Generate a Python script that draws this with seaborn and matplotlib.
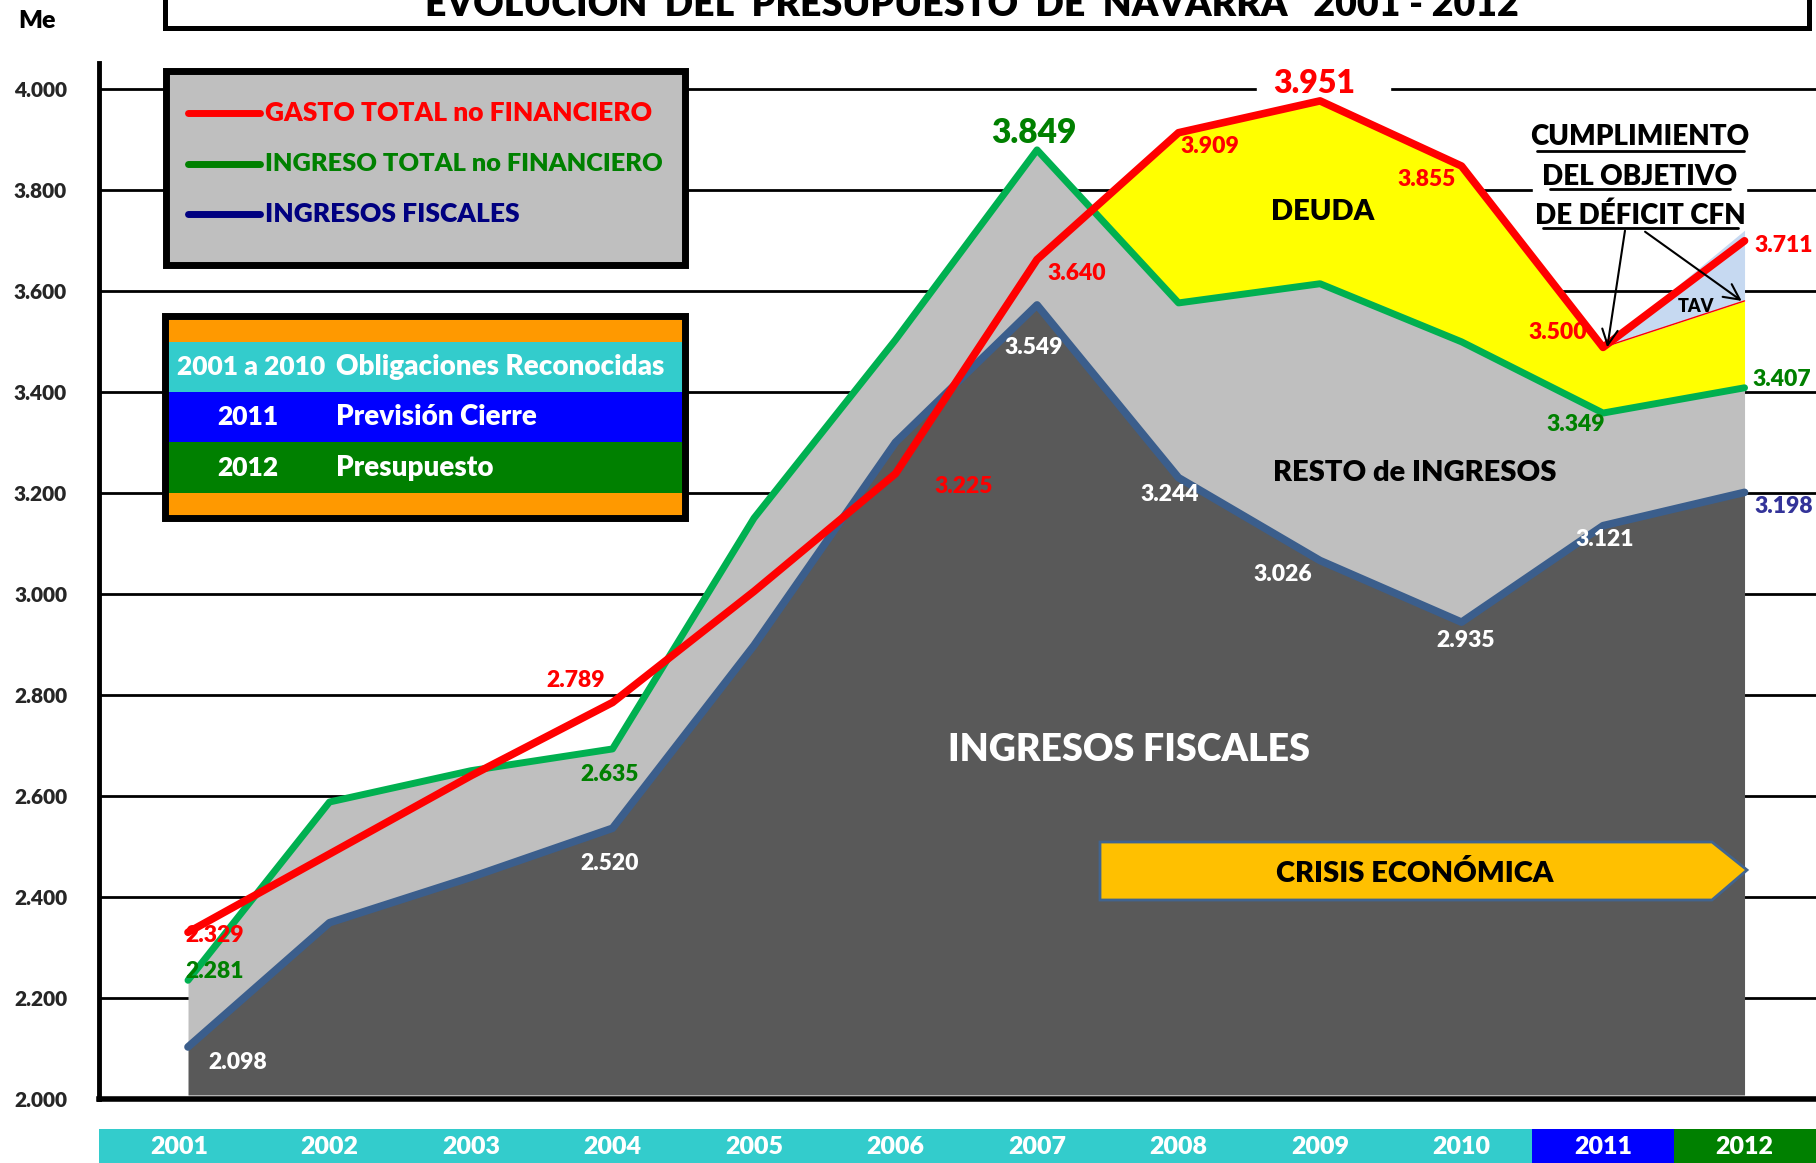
import numpy as np
import pandas as pd
import matplotlib
matplotlib.use("Agg")
import matplotlib.pyplot as plt
from matplotlib.patches import Rectangle, Polygon
from matplotlib.lines import Line2D
import seaborn as sns

sns.set_style("white")
plt.rcParams['font.family'] = ['Lato', 'DejaVu Sans']
plt.rcParams['font.weight'] = 'heavy'

# ---- data (millones de euros) ----
years = ['2001', '2002', '2003', '2004', '2005', '2006',
         '2007', '2008', '2009', '2010', '2011', '2012']
gasto = [2330, 2485, 2640, 2785, 3005, 3238, 3662, 3913, 3976, 3847, 3488, 3699]
ingreso = [2235, 2588, 2650, 2693, 3150, 3503, 3879, 3576, 3614, 3499, 3358, 3408]
fiscal = [2103, 2349, 2439, 2536, 2898, 3300, 3572, 3230, 3066, 2944, 3135, 3201]
tav_2012 = 3580   # objetivo de deficit 2012

gasto_labels = {0: '2.329', 3: '2.789', 5: '3.225', 6: '3.640', 7: '3.909',
                8: '3.951', 9: '3.855', 10: '3.500', 11: '3.711'}
ingreso_labels = {0: '2.281', 3: '2.635', 6: '3.849', 10: '3.349', 11: '3.407'}
fiscal_labels = {0: '2.098', 3: '2.520', 6: '3.549', 7: '3.244', 8: '3.026',
                 9: '2.935', 10: '3.121', 11: '3.198'}

periods = ['2001 a 2010', '2011', '2012']
period_desc = ['Obligaciones Reconocidas', 'Previsión Cierre', 'Presupuesto']

df = pd.DataFrame({'x': np.arange(len(years)), 'gasto': gasto,
                   'ingreso': ingreso, 'fiscal': fiscal})

RED, GREEN, STEEL = '#FF0000', '#00B050', '#3B5E8C'
DGREEN, NAVY = '#008000', '#000080'
CYAN, BLUE = '#33CCCC', '#0000FF'

W, H = 1816, 1163
def fx(px):
    return px / W
def fy(py):
    return 1 - py / H
def box(x0, y0, x1, y1, **kw):
    return Rectangle((fx(x0), fy(y1)), (x1 - x0) / W, (y1 - y0) / H,
                     transform=fig.transFigure, **kw)

fig = plt.figure(figsize=(W / 100, H / 100), dpi=100)
xmin, xmax = -0.629, 11.505
ax = fig.add_axes([fx(99), fy(1099), (W - 99) / W, (1099 - 63) / H])
ax.set_xlim(xmin, xmax)
ax.set_ylim(2000, 4051)
ax.set_axisbelow(True)
ax.grid(axis='y', color='black', lw=2)
ax.grid(axis='x', visible=False)

# white gaps in the grid behind labels
ax.add_patch(Rectangle((7.555, 3984), 0.94, 28, color='white', zorder=0.8))
ax.add_patch(Rectangle((9.505, 3770), 1.505, 60, color='white', zorder=0.8))

# areas
x = df.x.values
deuda_top = np.array(gasto, dtype=float)
deuda_top[-1] = tav_2012
deuda_mask = (deuda_top > df.ingreso.values) & (x >= 6)
ax.fill_between(x, 2008, df.fiscal, color='#595959', lw=0, zorder=1)
ax.fill_between(x, df.fiscal, df.ingreso, color='#BFBFBF', lw=0, zorder=1)
ax.fill_between(x, df.ingreso, deuda_top, where=deuda_mask,
                interpolate=True, color='#FFFF00', lw=0, zorder=1)
ax.fill_between(x[10:], deuda_top[10:], [gasto[10], 3720], color='#C6D9F1', lw=0, zorder=1)
ax.plot(x[10:], deuda_top[10:], color=RED, lw=1, zorder=4)

# lines
sns.lineplot(data=df, x='x', y='fiscal', color=STEEL, lw=5.5, zorder=2, ax=ax)
sns.lineplot(data=df, x='x', y='ingreso', color=GREEN, lw=5, zorder=3, ax=ax)
sns.lineplot(data=df, x='x', y='gasto', color=RED, lw=5.5, zorder=4, ax=ax)

# axes styling
yt = list(range(2000, 4001, 200))
ax.set_yticks(yt)
ax.set_yticklabels([f"{v:,}".replace(',', '.') for v in yt], fontweight='heavy')
ax.tick_params(axis='y', length=16, width=2.2, pad=7, labelsize=15, color='black')
ax.set_xticks([xmin] + [i + 0.5 for i in range(11)])
ax.set_xticklabels([])
ax.tick_params(axis='x', direction='out', length=20, width=2, color='black')
ax.set_xlabel('')
ax.set_ylabel('')
for s in ['top', 'right']:
    ax.spines[s].set_visible(False)
ax.spines['left'].set_linewidth(3.5)
ax.spines['bottom'].set_linewidth(4)
ax.spines['left'].set_color('black')
ax.spines['bottom'].set_color('black')

# value labels
gasto_pos = {0: (0.19, 2324), 3: (2.74, 2829), 5: (5.48, 3212), 6: (6.28, 3635),
             7: (7.22, 3885), 8: (7.96, 4011), 9: (8.75, 3821), 10: (9.68, 3518),
             11: (11.28, 3690)}
ingreso_pos = {0: (0.19, 2253), 3: (2.98, 2643), 6: (5.98, 3913),
               10: (9.81, 3336), 11: (11.26, 3424)}
fiscal_pos = {0: (0.35, 2073), 3: (2.98, 2466), 6: (5.98, 3488), 7: (6.94, 3196),
              8: (7.74, 3038), 9: (9.03, 2907), 10: (10.01, 3107), 11: (11.28, 3173)}
for k, t in gasto_labels.items():
    ax.text(*gasto_pos[k], t, color=RED, fontsize=23 if k == 8 else 16.5,
            ha='center', va='center', zorder=6)
for k, t in ingreso_labels.items():
    ax.text(*ingreso_pos[k], t, color=DGREEN, fontsize=24 if k == 6 else 16.5,
            ha='center', va='center', zorder=6)
for k, t in fiscal_labels.items():
    ax.text(*fiscal_pos[k], t, color='#333399' if k == 11 else 'white', fontsize=16.5,
            ha='center', va='center', zorder=6)

ax.text(6.65, 2691, 'INGRESOS FISCALES', color='white', fontsize=27,
        ha='center', va='center', zorder=6)
ax.text(8.67, 3240, 'RESTO de INGRESOS', color='black', fontsize=21,
        ha='center', va='center', zorder=6)
ax.text(8.02, 3757, 'DEUDA', color='black', fontsize=21,
        ha='center', va='center', zorder=6)
ax.text(10.66, 3568, 'TAV', color='black', fontsize=13,
        ha='center', va='center', zorder=6)

for start, end in [((10.155, 3719), (10.03, 3488)), ((10.297, 3717), (10.98, 3580))]:
    ax.annotate('', xy=end, xytext=start, zorder=7,
                arrowprops=dict(arrowstyle='->', color='black', lw=1.5,
                                mutation_scale=28, shrinkA=0, shrinkB=0))

# CUMPLIMIENTO text block (underlined)
for txt, yc, yl, (ux0, ux1) in [('CUMPLIMIENTO', 137, 151, (1537, 1744)),
                                ('DEL OBJETIVO', 177, 189, (1550, 1730)),
                                ('DE DÉFICIT CFN', 216, 228, (1543, 1738))]:
    fig.text(fx(1640), fy(yc), txt, fontsize=20, ha='center', va='center', color='black')
    fig.add_artist(Line2D([fx(ux0), fx(ux1)], [fy(yl), fy(yl)], color='black', lw=2,
                          transform=fig.transFigure))

# crisis arrow
crisis = [(1100, 842), (1712, 842), (1747, 870), (1712, 900), (1100, 900)]
fig.add_artist(Polygon([(fx(a), fy(b)) for a, b in crisis], closed=True,
                       transform=fig.transFigure, facecolor='#FFC000',
                       edgecolor='#41648F', lw=2))
fig.text(fx(1415), fy(873), 'CRISIS ECONÓMICA', fontsize=21, ha='center',
         va='center', color='black')

# legend 1 (lines)
fig.add_artist(box(165.5, 70.5, 684.5, 264.5, facecolor='#BFBFBF',
                   edgecolor='black', lw=5))
for (name, c, fs), yy in zip([('GASTO TOTAL no FINANCIERO', RED, 19),
                              ('INGRESO TOTAL no FINANCIERO', DGREEN, 18.3),
                              ('INGRESOS FISCALES', NAVY, 19)], [113, 164, 214]):
    fig.add_artist(Line2D([fx(188), fx(260)], [fy(yy), fy(yy)], color=c, lw=5,
                          transform=fig.transFigure))
    fig.text(fx(265), fy(yy), name, color=c, fontsize=fs, ha='left', va='center')

# legend 2 (periods)
strips = [(320, 342, '#FF9900'), (342, 392, CYAN), (392, 442, BLUE),
          (442, 493, DGREEN), (493, 516, '#FF9900')]
for y0, y1, c in strips:
    fig.add_artist(box(164, y0, 685, y1, facecolor=c, edgecolor='none'))
fig.add_artist(box(164.5, 316.5, 684.5, 518.5, facecolor='none',
                   edgecolor='black', lw=5))
for (p, d), yy, px in zip(zip(periods, period_desc), [367, 417, 468], [177, 217, 217]):
    fig.text(fx(px), fy(yy), p, color='white', fontsize=19, ha='left', va='center')
    fig.text(fx(336), fy(yy), d, color='white', fontsize=20, ha='left', va='center')

# title box (cut by the top edge)
fig.add_artist(box(164.5, -40, 1808.5, 27.5, facecolor='white',
                   edgecolor='black', lw=3.6))
fig.text(fx(972), fy(16), 'EVOLUCIÓN  DEL  PRESUPUESTO  DE  NAVARRA   2001 - 2012',
         fontsize=27, ha='center', va='baseline', color='black')
fig.text(fx(37), fy(21), 'Me', fontsize=18, ha='center', va='center', color='black')

# year bar under the axis
axb = fig.add_axes([fx(99), 0, (W - 99) / W, 34 / H])
axb.set_xlim(xmin, xmax)
axb.set_ylim(0, 1)
axb.axis('off')
axb.axvspan(xmin, 9.5, color=CYAN, lw=0)
axb.axvspan(9.5, 10.5, color=BLUE, lw=0)
axb.axvspan(10.5, xmax, color=DGREEN, lw=0)
for i, yr in enumerate(years):
    xp = (xmin + 0.5) / 2 if i == 0 else i
    axb.text(xp, 0.47, yr, color='white', fontsize=18, ha='center', va='center')

plt.savefig('out.png', dpi=100)
